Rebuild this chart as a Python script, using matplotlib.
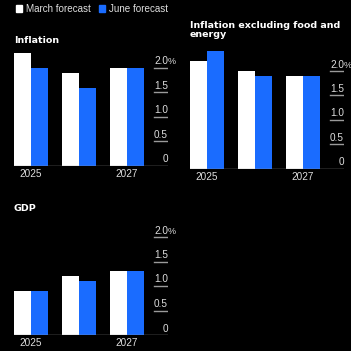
import numpy as np
import matplotlib
matplotlib.use("Agg")
import matplotlib.pyplot as plt
from matplotlib.patches import Patch
import matplotlib.transforms as mtransforms

# datos
years = ["2025", "2026", "2027"]
year_labels = ["2025", "", "2027"]
titles = ["Inflation", "Inflation excluding food and\nenergy", "GDP"]
march = [[2.3, 1.9, 2.0], [2.2, 2.0, 1.9], [0.9, 1.2, 1.3]]
june = [[2.0, 1.6, 2.0], [2.4, 1.9, 1.9], [0.9, 1.1, 1.3]]
yticks = [0, 0.5, 1.0, 1.5, 2.0]
ytick_labels = ["0", "0.5", "1.0", "1.5", "2.0"]

WHITE = "#ffffff"
BLUE = "#1a6cff"
GRID = "#9a9a9a"
TXT = "#dedede"

W = H = 351
fig = plt.figure(figsize=(W / 100, H / 100), dpi=100, facecolor="black")

# posiciones de los paneles en pixeles (izq, der, base)
panels = [(14, 168, 166), (190, 344, 169), (14, 168, 335)]
title_base = [(14, 43), (190, 37), (14, 211)]
px_per_unit = 49
ymax = 2.5
step_px = 48
bar_px = 17

for k, (l, r, b) in enumerate(panels):
    top = b - ymax * px_per_unit
    ax = fig.add_axes([l / W, 1 - b / H, (r - l) / W, (b - top) / H])
    ax.set_facecolor("black")
    x = np.arange(len(years))
    w = bar_px / step_px
    ax.bar(x - w / 2, march[k], width=w, color=WHITE, linewidth=0)
    ax.bar(x + w / 2, june[k], width=w, color=BLUE, linewidth=0)
    x0 = -w
    x1 = x0 + (r - l) / step_px
    ax.set_xlim(x0, x1)
    ax.set_ylim(0, ymax)
    for s in ax.spines.values():
        s.set_visible(False)
    ax.set_xticks([])
    ax.set_yticks([])
    ax.axhline(0, color=GRID, lw=1.0)
    gx = (r - 14 - l) / (r - l)
    off = mtransforms.offset_copy(ax.transData, fig=fig, x=0, y=1.5, units="dots")
    for t, lab in zip(yticks, ytick_labels):
        if t > 0:
            ax.axhline(t, xmin=gx, xmax=1, color=GRID, lw=1.0)
        ax.text(x1, t, lab, ha="right", va="bottom", color=TXT, fontsize=7.2,
                family="Liberation Sans", transform=off)
        if lab == "2.0":
            ax.text(x1, t, "%", ha="left", va="bottom", color=TXT, fontsize=6.5,
                    family="Liberation Sans", transform=off)
    offy = mtransforms.offset_copy(ax.transData, fig=fig, x=0, y=-3, units="dots")
    for xi, lab in zip(x, year_labels):
        ax.text(xi, 0, lab, ha="center", va="top", color=TXT, fontsize=7.2,
                family="Liberation Sans", transform=offy)
    tx, ty = title_base[k]
    fig.text(tx / W, 1 - ty / H, titles[k], ha="left", va="baseline", color="white",
             fontsize=6.8, fontweight="bold", family="DejaVu Sans", linespacing=0.95)

handles = [Patch(color=WHITE, label="March forecast"), Patch(color=BLUE, label="June forecast")]
fig.legend(handles=handles, loc="upper left", bbox_to_anchor=(13 / W, 1 - 1 / H), ncol=2,
           frameon=False, handlelength=0.65, handleheight=0.65, handletextpad=0.35,
           columnspacing=0.85, borderaxespad=0, borderpad=0.3,
           prop={"family": "Liberation Sans", "size": 7.1}, labelcolor=TXT)

fig.savefig("out.png", dpi=100, facecolor="black")
